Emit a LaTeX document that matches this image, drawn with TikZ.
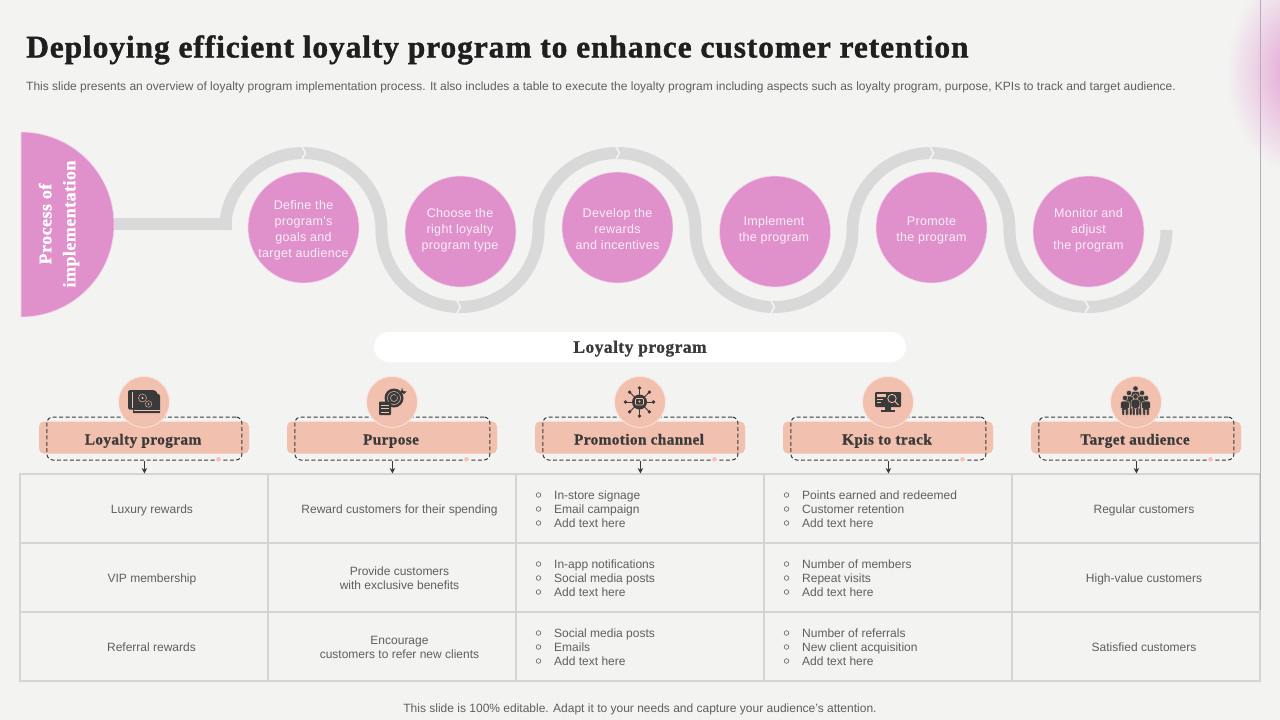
\documentclass[tikz,border=0pt]{standalone}
\usetikzlibrary{arrows.meta}
\usepackage{fontspec}
\setmainfont{Liberation Sans}
\newfontfamily\headf[LetterSpace=2.8,BoldFeatures={FakeBold=1.2}]{Liberation Serif}
\newfontfamily\subf[LetterSpace=2.5,BoldFeatures={FakeBold=0.8}]{Liberation Serif}
\newfontfamily\stepf[LetterSpace=2.5]{Liberation Sans}
\definecolor{bgc}{HTML}{F3F3F2}
\definecolor{pinkc}{HTML}{E091CC}
\definecolor{peach}{HTML}{F2C0AE}
\definecolor{ribbon}{HTML}{D9D9D9}
\definecolor{darkc}{HTML}{3A3A3A}
\definecolor{textc}{HTML}{5F5F5F}
\definecolor{gridc}{HTML}{D4D4D4}
\tikzset{
  stepdisc/.style={circle,fill=pinkc,draw=white!60!pinkc,line width=.6pt,minimum size=111pt,inner sep=0pt},
  steptext/.style={text=white!85!pinkc,align=center,inner sep=0pt,font=\stepf\fontsize{12.5}{16}\selectfont},
  ribbonline/.style={draw=ribbon,line width=12pt,line cap=butt},
  notch/.style={draw=bgc,line width=1.6pt},
  headbox/.style={fill=peach,rounded corners=5pt,minimum width=210pt,minimum height=32pt,inner sep=0pt},
  dashbox/.style={draw=darkc,line width=1pt,dash pattern=on 4pt off 2.4pt,rounded corners=6pt,minimum width=195pt,minimum height=43pt,inner sep=0pt},
  iconbg/.style={circle,fill=peach,draw=white!55!peach,line width=.8pt,minimum size=51pt,inner sep=0pt},
  headtext/.style={text=darkc,inner sep=0pt,text height=10pt,text depth=0pt,font=\subf\fontsize{15.3}{18}\selectfont\bfseries},
  cellbox/.style={draw=gridc,line width=1.1pt,minimum width=248pt,minimum height=69pt,inner sep=0pt},
  celltext/.style={text=textc,align=center,inner sep=0pt,font=\fontsize{12}{14}\selectfont},
  singletext/.style={text=textc,inner sep=0pt,text height=8.6pt,text depth=0pt,font=\fontsize{12}{14}\selectfont},
  listtext/.style={text=textc,anchor=west,inner sep=0pt,text height=8.6pt,text depth=0pt,font=\fontsize{12}{14}\selectfont},
  bul/.style={draw=textc,line width=.6pt},
  arr/.style={draw=darkc,line width=1pt,-{Stealth[length=5.5pt,width=5.5pt]}},
}
\newcommand{\myperson}[3]{%
  \fill[darkc,draw=#3,line width=.4pt] (#1,#2) circle (2.7);
  \fill[darkc,draw=#3,line width=.4pt,rounded corners=1.5pt] (#1-4.4,#2+3.2) -- (#1+4.4,#2+3.2) -- (#1+4.4,#2+11) -- (#1+3,#2+11) -- (#1+3,416) -- (#1+.4,416) -- (#1+.4,#2+12) -- (#1-.4,#2+12) -- (#1-.4,416) -- (#1-3,416) -- (#1-3,#2+11) -- (#1-4.4,#2+11) -- cycle;
}
\begin{document}
\begin{tikzpicture}[x=1pt,y=1pt,yscale=-1]
\useasboundingbox (0,0) rectangle (1280,720);
\fill[bgc] (0,0) rectangle (1280,720);
\begin{scope}
  \clip (0,0) rectangle (1280,720);
  \shade[inner color=pinkc!85!bgc,outer color=bgc,draw=none] (1298,72) ellipse (72 and 102);
\end{scope}

% title
\node[anchor=west,inner sep=0pt,text=black!88,text height=21pt,text depth=0pt,font=\headf\fontsize{31.5}{36}\selectfont\bfseries] (title) at (26,47) {Deploying efficient loyalty program to enhance customer retention};
\node[anchor=west,inner sep=0pt,text=textc,text height=8.6pt,text depth=0pt,font=\fontsize{12}{14}\selectfont] (subtitle) at (26,86.5) {This slide presents an overview of loyalty program implementation process. It also includes a table to execute the loyalty program including aspects such as loyalty program, purpose, KPIs to track and target audience.};

% ribbon
\draw[ribbonline] (114,224) -- (232,224);
\draw[ribbonline] (225,230) arc[start angle=180,end angle=360,x radius=78.25,y radius=77];
\draw[ribbonline] (381.5,230) arc[start angle=180,end angle=0,x radius=78.5,y radius=77];
\draw[ribbonline] (538.5,230) arc[start angle=180,end angle=360,x radius=78.5,y radius=77];
\draw[ribbonline] (695.5,230) arc[start angle=180,end angle=0,x radius=78.5,y radius=77];
\draw[ribbonline] (852.5,230) arc[start angle=180,end angle=360,x radius=78.5,y radius=77];
\draw[ribbonline] (1009.5,230) arc[start angle=180,end angle=0,x radius=78.5,y radius=77];
\foreach \nx/\ny in {303/153,617/153,931/153,458/307,772/307,1086/307}{
  \draw[notch] (\nx-1.5,\ny-7) -- (\nx+2.5,\ny) -- (\nx-1.5,\ny+7);
}

% half disc
\fill[pinkc,draw=white!60!pinkc,line width=.6pt] (21,132) arc[start angle=-90,end angle=90,x radius=93,y radius=92.5] -- cycle;
\node[rotate=90,text=white,align=center,inner sep=0pt,font=\subf\fontsize{18}{24}\selectfont\bfseries] (proc) at (59,224) {Process of\\implementation};

% steps
\node[stepdisc] (s1) at (303.5,227.5) {};
\node[stepdisc] (s2) at (460.5,231.5) {};
\node[stepdisc] (s3) at (617.5,227.5) {};
\node[stepdisc] (s4) at (775,231.5) {};
\node[stepdisc] (s5) at (931.5,227.5) {};
\node[stepdisc] (s6) at (1088.5,231.5) {};
\node[steptext] (t1) at (303.5,230.3) {Define the\\program's\\goals and\\target audience};
\node[steptext] (t2) at (460,230.3) {Choose the\\right loyalty\\program type};
\node[steptext] (t3) at (617.5,229.3) {Develop the\\rewards\\and incentives};
\node[steptext] (t4) at (774,230) {Implement\\the program};
\node[steptext] (t5) at (931.5,230) {Promote\\the program};
\node[steptext] (t6) at (1088.5,230.3) {Monitor and\\adjust\\the program};

% pill
\node[fill=white,rounded corners=15pt,minimum width=532pt,minimum height=30pt,inner sep=0pt,text=darkc,text height=11.5pt,text depth=0pt,font=\subf\fontsize{17.5}{20}\selectfont\bfseries] (pill) at (640,347) {Loyalty program};

% table cells
\foreach \i/\cx in {1/144,2/392,3/640,4/888,5/1136}{
  \foreach \j/\cy in {1/508.5,2/577.5,3/646.5}{
    \node[cellbox] (c\i\j) at (\cx,\cy) {};
  }
}
\draw[draw=pinkc!35!gray!70,line width=.9pt] (1260.8,0) -- (1260.8,610);

% headers
\foreach \i/\cx/\lab in {1/144/Loyalty program,2/392/Purpose,3/640/Promotion channel,4/888/Kpis to track,5/1136/Target audience}{
  \node[headbox] (h\i) at (\cx,437.5) {};
  \node[dashbox] (d\i) at (\cx+.4,438.5) {};
  \fill[bgc] (\cx+72,457) rectangle (\cx+79,462);
  \fill[peach!60!pink] (\cx+74.5,459.3) circle (2.3);
  \node[iconbg] (b\i) at (\cx,402) {};
  \node[headtext] (l\i) at (\cx-1,439.5) {\lab};
  \draw[arr] (d\i.south) -- (d\i.south |- c\i1.north);
}

% icon 1
\fill[darkc] (133,394) -- (159,394) -- (160,396) -- (160,413) -- (133,413) -- cycle;
\draw[peach,line width=.5pt] (134,410.5) -- (159.5,410.5);
\fill[darkc,rounded corners=1.5pt] (128,390) -- (155,390) -- (158,394) -- (158,409.5) -- (128,409.5) -- cycle;
\draw[peach,line width=.4pt] (132,391.5) -- (132,408);
\draw[peach,line width=.6pt,dash pattern=on 1pt off .6pt] (142.5,398) circle (4);
\fill[peach] (142.5,398) circle (1.1);
\draw[peach,line width=.6pt,dash pattern=on 1pt off .6pt] (148.5,404) circle (3.2);
\fill[peach] (148.5,404) circle (.9);

% icon 2
\fill[darkc] (394,398) circle (9.5);
\draw[peach,line width=.5pt] (394,398) circle (6.5);
\draw[peach,line width=.5pt] (394,398) circle (3.5);
\draw[darkc,line width=1pt] (394,398) -- (403,391);
\fill[darkc] (402,387.5) -- (403,391) -- (406.5,391.5) -- (404,394) -- (401,392) -- cycle;
\fill[darkc,rounded corners=.8pt] (379,401.5) rectangle (391,415);
\foreach \yy in {405,408.5,412}{ \draw[peach,line width=.5pt] (381,\yy) -- (389,\yy); }

% icon 3
\foreach \ang in {0,45,...,315}{
  \draw[darkc,line width=.8pt] (639.5,402) -- ++(\ang:14);
  \fill[darkc] (639.5,402) ++(\ang:14) circle (1.9);
}
\fill[darkc] (639.5,402) circle (7.5);
\draw[peach,line width=.6pt,rounded corners=1pt] (635.5,398.5) rectangle (643.5,405);
\fill[peach] (639.5,401.5) circle (1.2);

% icon 4
\fill[darkc,rounded corners=1pt] (875,392) rectangle (901,407);
\fill[darkc] (885,407) rectangle (891,410);
\fill[darkc] (881,410) rectangle (895,411.5);
\fill[peach] (877,394) rectangle (886,397);
\fill[peach] (877,398.5) rectangle (883,400);
\fill[peach] (877,401.5) rectangle (881,403);
\draw[peach,line width=.8pt] (892,398.5) circle (4.2);
\draw[peach,line width=1pt] (895,401.5) -- (898.5,405);

% icon 5
\myperson{1135.5}{388.5}{peach}
\myperson{1129}{393}{peach}
\myperson{1142}{393}{peach}
\myperson{1125}{398}{peach}
\myperson{1146}{398}{peach}
\myperson{1135.5}{396.5}{peach}

% column 1
\node[singletext] (a1) at (152,509.3) {Luxury rewards};
\node[singletext] (a2) at (152,578.3) {VIP membership};
\node[singletext] (a3) at (151.5,647.3) {Referral rewards};
% column 2
\node[singletext] (p1) at (399.5,509.3) {Reward customers for their spending};
\node[celltext] (p2) at (399.5,578) {Provide customers\\with exclusive benefits};
\node[celltext] (p3) at (399.5,647) {Encourage\\customers to refer new clients};
% column 5
\node[singletext] (g1) at (1144,509.3) {Regular customers};
\node[singletext] (g2) at (1144,578.3) {High-value customers};
\node[singletext] (g3) at (1144,647.3) {Satisfied customers};

% lists
\foreach \n/\bx/\ty/\txt in {
 m11/538/495/In-store signage, m12/538/509/Email campaign, m13/538/523/Add text here,
 m21/538/564/In-app notifications, m22/538/578/Social media posts, m23/538/592/Add text here,
 m31/538/633/Social media posts, m32/538/647/Emails, m33/538/661/Add text here,
 k11/786/495/Points earned and redeemed, k12/786/509/Customer retention, k13/786/523/Add text here,
 k21/786/564/Number of members, k22/786/578/Repeat visits, k23/786/592/Add text here,
 k31/786/633/Number of referrals, k32/786/647/New client acquisition, k33/786/661/Add text here}{
  \draw[bul] (\bx+.5,\ty) circle (2.3);
  \node[listtext] (\n) at (\bx+16,\ty) {\txt};
}

% footer
\node[singletext] (foot) at (640,708.5) {This slide is 100\% editable. Adapt it to your needs and capture your audience’s attention.};
\end{tikzpicture}
\end{document}
